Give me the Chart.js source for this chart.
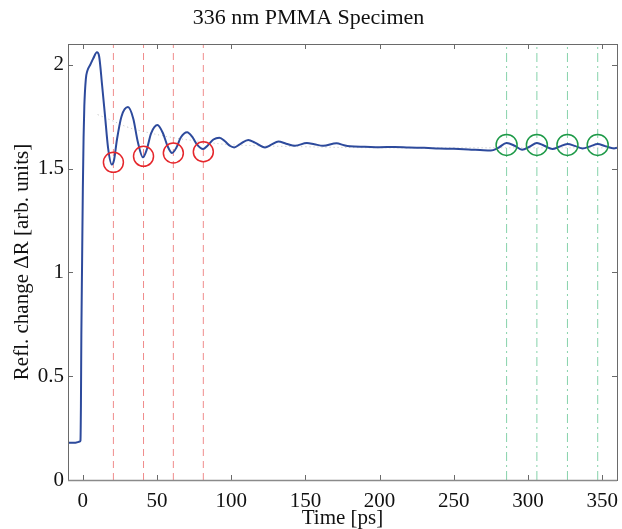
<!DOCTYPE html>
<html><head><meta charset="utf-8">
<script src="https://cdn.jsdelivr.net/npm/chart.js@4.4.1/dist/chart.umd.min.js"></script>
<style>html,body{margin:0;padding:0;background:#fff}#wrap{width:622px;height:529px}</style>
</head><body><div id="wrap"><canvas id="c" width="622" height="529"></canvas></div>
<script>
const timePs = [-10,-5,-2,-1.6,-1.3,-1,-0.5,0,0.5,1,2,3,5,7,9.5,11,13,15,17,19.5,21,23,26,30.4,34,37,40.5,43,46,50.3,54,57,60.1,63,66,70.3,74,77,81,84,88,92,96,99,102,106,111.5,116,122.8,127,131.8,137,143,151,156,162,171,176,180,190,200,210,220,230,240,250,260,270,275,280,285.6,291,296,301,306,311,316.5,321,326.6,332,336.8,342,347,352,358,360];
const reflChange = [0.18,0.18,0.185,0.19,0.35,0.7,1.05,1.4,1.65,1.8,1.93,1.97,2.0,2.03,2.06,2.04,1.9,1.75,1.6,1.52,1.54,1.64,1.75,1.796,1.74,1.63,1.554,1.59,1.67,1.71,1.67,1.61,1.575,1.60,1.65,1.675,1.65,1.615,1.594,1.61,1.64,1.649,1.63,1.61,1.602,1.618,1.638,1.625,1.602,1.615,1.63,1.62,1.61,1.623,1.617,1.61,1.622,1.612,1.607,1.605,1.603,1.604,1.601,1.600,1.597,1.595,1.592,1.588,1.587,1.60,1.623,1.61,1.591,1.605,1.623,1.61,1.594,1.605,1.618,1.608,1.597,1.607,1.618,1.608,1.597,1.60];
const trendX = [10,20,30,40,60,80,100,150,200,250,300,360];
const trendY = [1.76,1.73,1.70,1.68,1.65,1.63,1.615,1.605,1.60,1.60,1.60,1.60];
const redMinX = [20.6,40.9,61,81.2];
const redMinY = [1.53,1.559,1.575,1.581];
const greenMaxX = [285.6,306,326.6,347];
const greenMaxY = [1.614,1.614,1.614,1.614];
const xTicks = [0,50,100,150,200,250,300,350];
const xTickLabels = ['0','50','100','150','200','250','300','350'];
const yTicks = [0,0.5,1,1.5,2];
const yTickLabels = ['0','0.5','1','1.5','2'];
const xRange = [-10,360];
const yRange = [0,2.1];

const FONT = '"Liberation Serif", "Times New Roman", serif';
const datasets = [];
redMinX.forEach(x => datasets.push({type:'line', data:[{x:x,y:yRange[0]},{x:x,y:yRange[1]}], borderColor:'#f08c8c', borderWidth:1, borderDash:[7,5], pointRadius:0, order:5}));
greenMaxX.forEach(x => datasets.push({type:'line', data:[{x:x,y:yRange[0]},{x:x,y:yRange[1]}], borderColor:'#86d2aa', borderWidth:1, borderDash:[9,4,2,4], pointRadius:0, order:5}));
datasets.push({type:'line', data:trendX.map((x,i)=>({x:x,y:trendY[i]})), borderColor:'rgba(150,150,150,0.6)', borderWidth:1, borderDash:[1,3], pointRadius:0, tension:0.4, order:4});
datasets.push({type:'line', data:timePs.map((x,i)=>({x:x,y:reflChange[i]})), borderColor:'#2d4a9c', borderWidth:2, pointRadius:0, cubicInterpolationMode:'monotone', order:2});
datasets.push({type:'scatter', data:redMinX.map((x,i)=>({x:x,y:redMinY[i]})), borderColor:'#e5262b', backgroundColor:'rgba(0,0,0,0)', borderWidth:1.5, pointRadius:10, order:1});
datasets.push({type:'scatter', data:greenMaxX.map((x,i)=>({x:x,y:greenMaxY[i]})), borderColor:'#1e9a48', backgroundColor:'rgba(0,0,0,0)', borderWidth:1.5, pointRadius:10.5, order:1});

const frame = {
  id:'frame',
  afterDatasetsDraw(chart){
    const {ctx, chartArea:a, scales:{x,y}} = chart;
    ctx.save();
    ctx.strokeStyle = '#6a6a6a';
    ctx.lineWidth = 1;
    const L = 5;
    ctx.beginPath();
    xTicks.forEach(v => { const p = Math.round(x.getPixelForValue(v))+0.5; ctx.moveTo(p,a.bottom); ctx.lineTo(p,a.bottom-L); ctx.moveTo(p,a.top); ctx.lineTo(p,a.top+L); });
    yTicks.forEach(v => { const p = Math.round(y.getPixelForValue(v))+0.5; ctx.moveTo(a.left,p); ctx.lineTo(a.left+L,p); ctx.moveTo(a.right,p); ctx.lineTo(a.right-L,p); });
    ctx.stroke();
    ctx.strokeRect(Math.round(a.left)+0.5, Math.round(a.top)+0.5, Math.round(a.right-a.left), Math.round(a.bottom-a.top));
    ctx.strokeStyle = '#8a8a8a'; ctx.lineWidth = 1.5;
    ctx.beginPath(); ctx.moveTo(a.left, Math.round(a.bottom)+0.5); ctx.lineTo(a.right, Math.round(a.bottom)+0.5); ctx.stroke();
    ctx.restore();
  }
};

new Chart(document.getElementById('c'), {
  data:{datasets},
  options:{
    responsive:false, animation:false,
    layout:{autoPadding:false, padding:{left:0,right:5,top:0,bottom:0}},
    plugins:{
      legend:{display:false}, tooltip:{enabled:false},
      title:{display:true, text:'336 nm PMMA Specimen', color:'#111', font:{family:FONT,size:22,weight:'normal'}, padding:{top:5,bottom:12.6}}
    },
    scales:{
      x:{type:'linear', min:xRange[0], max:xRange[1],
        afterBuildTicks(s){ s.ticks = xTicks.map(v=>({value:v})); },
        afterFit(s){ s.height = 49; s.paddingLeft = 0; s.paddingRight = 0; },
        grid:{display:false, drawTicks:false}, border:{display:false},
        ticks:{color:'#111', font:{family:FONT,size:21}, padding:9, maxRotation:0, autoSkip:false,
          callback:(v)=>{ const i = xTicks.indexOf(v); return i>=0 ? xTickLabels[i] : ''; }},
        title:{display:true, text:'Time [ps]', color:'#111', font:{family:FONT,size:21}, padding:{top:0,bottom:-2}}
      },
      y:{type:'linear', min:yRange[0], max:yRange[1],
        afterBuildTicks(s){ s.ticks = yTicks.map(v=>({value:v})); },
        afterFit(s){ s.width = 68; s.paddingTop = 0; s.paddingBottom = 0; },
        grid:{display:false, drawTicks:false}, border:{display:false},
        ticks:{color:'#111', font:{family:FONT,size:21}, padding:4, autoSkip:false,
          callback:(v)=>{ const i = yTicks.indexOf(v); return i>=0 ? yTickLabels[i] : ''; }},
        title:{display:true, text:'Refl. change \u0394R [arb. units]', color:'#111', font:{family:FONT,size:21}, padding:{top:10,bottom:0}}
      }
    }
  },
  plugins:[frame]
});
</script></body></html>
